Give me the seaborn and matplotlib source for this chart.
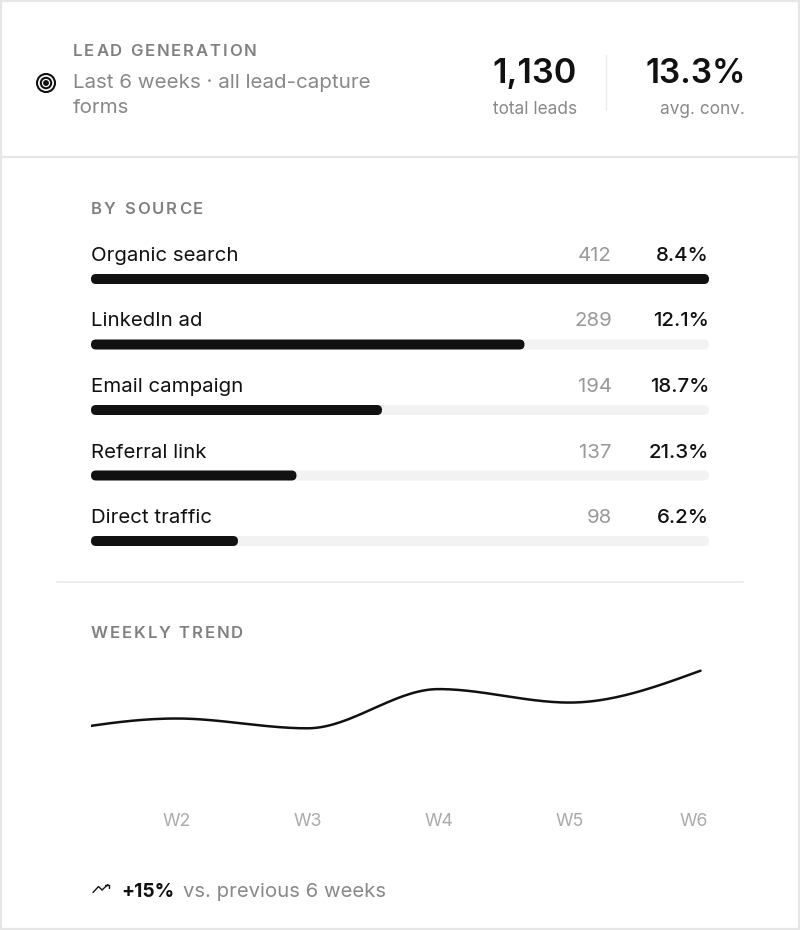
import numpy as np
import pandas as pd
import matplotlib.pyplot as plt
import matplotlib.transforms as mtransforms
from matplotlib.patches import Circle, Rectangle, FancyBboxPatch
import seaborn as sns

# data
sources = ["Organic search", "LinkedIn ad", "Email campaign", "Referral link", "Direct traffic"]
leads = [412, 289, 194, 137, 98]
conv_rate = [8.4, 12.1, 18.7, 21.3, 6.2]
weeks = ["W1", "W2", "W3", "W4", "W5", "W6"]
weekly_leads = [167, 179, 171, 203, 192, 218]
change_vs_prev = "+15%"

total_leads = sum(leads)
avg_conv = np.mean(conv_rate)

sns.set_style("white")
plt.rcParams["font.family"] = ["Inter", "DejaVu Sans"]

W, H = 800, 930
fig = plt.figure(figsize=(W / 100, H / 100), dpi=100)
fig.patch.set_facecolor("white")


def rect(x0, y0, x1, y1):
    return [x0 / W, 1 - y1 / H, (x1 - x0) / W, (y1 - y0) / H]


# background axes in pixel coordinates
bg = fig.add_axes([0, 0, 1, 1])
bg.set_xlim(0, W)
bg.set_ylim(H, 0)
bg.axis("off")
renderer = fig.canvas.get_renderer()

BLACK = "#111111"
GREY = "#888888"
LIGHT = "#aaaaaa"


def text_w(s, **kw):
    t = bg.text(0, 0, s, **kw)
    w = t.get_window_extent(renderer).width
    t.remove()
    return w


def spaced(x, y, s, track, **kw):
    # letter-spaced caps label
    for i, ch in enumerate(s):
        if ch == " ":
            continue
        start = text_w(s[:i + 1], **kw) - text_w(ch, **kw)
        bg.text(x + start + i * track, y, ch, **kw)


# card borders and dividers
bg.add_patch(Rectangle((1, 1), W - 2, H - 2, fill=False, ec="#e6e6e6", lw=1.6))
bg.plot([0, W], [157, 157], color="#e6e6e6", lw=1.6)
bg.plot([57, 743], [582, 582], color="#ececec", lw=1.3)
bg.plot([606, 606], [55, 110], color="#ececec", lw=1.0)

# header
cap = dict(fontsize=12, fontweight="semibold", color="#808080", va="baseline")
spaced(73, 56, "LEAD GENERATION", 1.85, **cap)
bg.text(73, 88, "Last 6 weeks · all lead-capture", fontsize=14.8, color=GREY, va="baseline")
bg.text(73, 113, "forms", fontsize=14.8, color=GREY, va="baseline")

for r, lw_ in [(9, 1.5), (5.2, 1.5)]:
    bg.add_patch(Circle((46, 83), r, fill=False, ec=BLACK, lw=lw_))
bg.add_patch(Circle((46, 83), 2.2, color=BLACK))

bg.text(577, 83, f"{total_leads:,}", fontsize=24.6, fontweight="semibold", color=BLACK,
        ha="right", va="baseline")
bg.text(577, 114, "total leads", fontsize=12.4, color=GREY, ha="right", va="baseline")
bg.text(746, 83, f"{avg_conv:.1f}%", fontsize=24, fontweight="semibold", color=BLACK,
        ha="right", va="baseline")
bg.text(745, 114, "avg. conv.", fontsize=12.4, color=GREY, ha="right", va="baseline")

# by source bars
spaced(91, 214, "BY SOURCE", 2.0, **cap)

row_gap = 65.5
top_row = 279
bx = fig.add_axes(rect(91, top_row - row_gap / 2, 709, top_row + row_gap * 4.5))
df_src = pd.DataFrame({"source": sources, "leads": leads, "conv": conv_rate})
bar_h = 10 / row_gap
sns.barplot(data=df_src, y="source", x=[max(leads)] * len(sources), color="#f2f2f2",
            width=bar_h, ax=bx, orient="h")
sns.barplot(data=df_src, y="source", x="leads", color=BLACK, width=bar_h, ax=bx, orient="h")
bx.set_xlim(0, max(leads))
bx.set_ylim(len(sources) - 0.5, -0.5)
bx.axis("off")

# round bar ends
bx_w = 618
bx_h = row_gap * 5
xu = max(leads) / bx_w
yu = len(sources) / bx_h
for p in list(bx.patches):
    x, y, w, h = p.get_x(), p.get_y(), p.get_width(), p.get_height()
    fb = FancyBboxPatch((x, y), w, h, boxstyle=f"round,pad=0,rounding_size={5 * xu}",
                        mutation_aspect=yu / xu, fc=p.get_facecolor(), ec="none",
                        zorder=p.get_zorder())
    p.remove()
    bx.add_patch(fb)

lab_tr = mtransforms.offset_copy(bx.transData, fig=fig, y=23 * 0.72, units="points")
col_tr = mtransforms.offset_copy(
    mtransforms.blended_transform_factory(bx.transAxes, bx.transData),
    fig=fig, y=23 * 0.72, units="points")
for i, row in df_src.iterrows():
    bx.text(0, i, row["source"], transform=lab_tr, fontsize=14.7, color=BLACK, va="center")
    bx.text((612 - 91) / bx_w, i, f"{row['leads']}", transform=col_tr, fontsize=14.7,
            color="#999999", ha="right", va="center")
    bx.text((709 - 91) / bx_w, i, f"{row['conv']:.1f}%", transform=col_tr, fontsize=14.7,
            fontweight="medium", color=BLACK, ha="right", va="center")

# weekly trend
spaced(91, 638, "WEEKLY TREND", 1.9, **cap)


def monotone_x(xs, ys, n=60):
    xs = np.asarray(xs, float)
    ys = np.asarray(ys, float)
    h = np.diff(xs)
    s = np.diff(ys) / h
    m = np.zeros_like(ys)
    for i in range(1, len(ys) - 1):
        p = (s[i - 1] * h[i] + s[i] * h[i - 1]) / (h[i - 1] + h[i])
        m[i] = (np.sign(s[i - 1]) + np.sign(s[i])) * min(abs(s[i - 1]), abs(s[i]), 0.5 * abs(p))
    m[0] = (3 * s[0] - m[1]) / 2
    m[-1] = (3 * s[-1] - m[-2]) / 2
    px, py = [], []
    for i in range(len(xs) - 1):
        t = np.linspace(0, 1, n, endpoint=(i == len(xs) - 2))
        h00 = 2 * t**3 - 3 * t**2 + 1
        h10 = t**3 - 2 * t**2 + t
        h01 = -2 * t**3 + 3 * t**2
        h11 = t**3 - t**2
        px.extend(xs[i] + t * h[i])
        py.extend(h00 * ys[i] + h10 * h[i] * m[i] + h01 * ys[i + 1] + h11 * h[i] * m[i + 1])
    return np.array(px), np.array(py)


lx = fig.add_axes(rect(91, 650, 709, 800))
idx = np.arange(len(weeks))
cx, cy = monotone_x(idx, weekly_leads)
sns.lineplot(x=cx, y=cy, sort=False, estimator=None, color=BLACK, linewidth=1.8, ax=lx)
lx.set_xlim((91 - 45.5) / 131, (709 - 45.5) / 131)
lx.set_ylim(112.5, 234.9)
lx.axis("off")

wk_tr = mtransforms.blended_transform_factory(lx.transData, lx.transAxes)
for i in range(1, len(weeks)):
    off = -7 if i == len(weeks) - 1 else 0
    tr = mtransforms.offset_copy(wk_tr, fig=fig, x=off * 0.72, y=-21 * 0.72, units="points")
    lx.text(i, 0, weeks[i], transform=tr, fontsize=12.8, color=LIGHT, ha="center", va="center")

# footer
bg.plot([93, 98.5, 102, 108], [892.5, 886.5, 890, 884.5], color=BLACK, lw=1.0,
        solid_joinstyle="miter")
bg.plot([104.5, 108.5, 108.5], [884.5, 884.5, 888], color=BLACK, lw=1.0)
bg.text(121.5, 896.5, change_vs_prev, fontsize=13.8, fontweight="bold", color=BLACK,
        va="baseline")
wb = text_w(change_vs_prev, fontsize=13.8, fontweight="bold")
bg.text(121.5 + wb + 8, 896.5, "vs. previous 6 weeks", fontsize=14.6, color=GREY,
        va="baseline")

fig.savefig("out.png", dpi=100)
